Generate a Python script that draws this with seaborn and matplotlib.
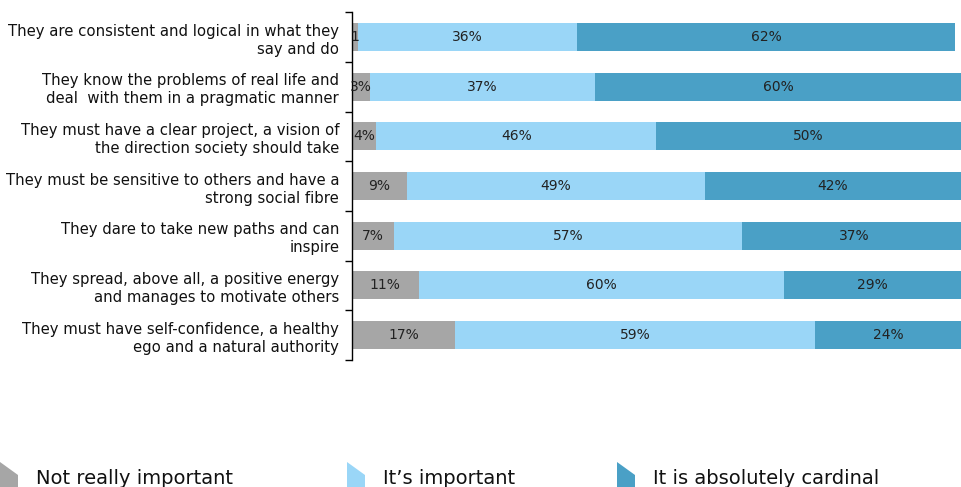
import matplotlib
matplotlib.use("Agg")
import matplotlib.pyplot as plt
from matplotlib.patches import Polygon
import numpy as np
import pandas as pd
import seaborn as sns

statements = [
    "They are consistent and logical in what they\nsay and do",
    "They know the problems of real life and\ndeal  with them in a pragmatic manner",
    "They must have a clear project, a vision of\nthe direction society should take",
    "They must be sensitive to others and have a\nstrong social fibre",
    "They dare to take new paths and can\ninspire",
    "They spread, above all, a positive energy\nand manages to motivate others",
    "They must have self-confidence, a healthy\nego and a natural authority",
]
not_really = [1, 3, 4, 9, 7, 11, 17]
important = [36, 37, 46, 49, 57, 60, 59]
cardinal = [62, 60, 50, 42, 37, 29, 24]
not_really_labels = ["1", "3%", "4%", "9%", "7%", "11%", "17%"]
series_names = ["Not really important", "It\u2019s important", "It is absolutely cardinal"]
colors = ["#A6A6A6", "#9AD6F7", "#4AA0C6"]

df = pd.DataFrame({
    "statement": statements,
    "not_really": not_really,
    "important": important,
    "cardinal": cardinal,
})
df["cum1"] = df["not_really"]
df["cum2"] = df["cum1"] + df["important"]
df["cum3"] = df["cum2"] + df["cardinal"]

sns.set_theme(style="white")
plt.rcParams["font.family"] = ["DejaVu Sans"]

fig = plt.figure(figsize=(9.61, 4.87), dpi=100)
ax = fig.add_axes([0.366, 0.261, 0.634, 0.714])

# Stacked bars drawn as layered cumulative totals
for col, color in zip(["cum3", "cum2", "cum1"], colors[::-1]):
    sns.barplot(data=df, x=col, y="statement", orient="h", color=color,
                width=0.56, ax=ax, saturation=1, edgecolor="none", linewidth=0)

ax.set_xlim(0, 100)
ax.set_ylim(len(statements) - 0.5, -0.5)
ax.set_xlabel("")
ax.set_ylabel("")
ax.set_xticks([])

# Value labels centred on each segment
seg_values = [df["not_really"], df["important"], df["cardinal"]]
seg_lefts = [np.zeros(len(df)), df["cum1"], df["cum2"]]
for k, (vals, lefts) in enumerate(zip(seg_values, seg_lefts)):
    for i, (v, l) in enumerate(zip(vals, lefts)):
        txt = not_really_labels[i] if k == 0 else f"{v}%"
        ax.text(l + v / 2, i, txt, ha="center", va="center",
                fontsize=10, color="#222222")

# Left spine with tick marks at category boundaries
for s in ["top", "right", "bottom"]:
    ax.spines[s].set_visible(False)
ax.spines["left"].set_color("black")
ax.spines["left"].set_linewidth(1.0)
ax.tick_params(axis="y", which="major", length=0, labelsize=10.7, pad=9,
               labelcolor="#111111")
ax.set_yticks(np.arange(-0.5, len(statements), 1.0), minor=True)
ax.tick_params(axis="y", which="minor", length=5, width=1, color="black",
               direction="out", left=True)
for lab in ax.get_yticklabels():
    lab.set_horizontalalignment("right")
    lab.set_multialignment("right")
    lab.set_linespacing(1.25)

# Legend along the bottom edge
legend_x = [0, 347, 617]
W, H = 961, 487
for x0, name, color in zip(legend_x, series_names, colors):
    poly = Polygon([(x0 / W, 1 - 462 / H), (x0 / W + 18 / W, 1 - 475 / H),
                    (x0 / W + 18 / W, -0.01), (x0 / W, -0.01)],
                   closed=True, transform=fig.transFigure,
                   facecolor=color, edgecolor="none")
    fig.patches.append(poly)
    fig.text((x0 + 36) / W, 1 - 484 / H, name, fontsize=14,
             ha="left", va="baseline", color="#111111")

fig.savefig("out.png", dpi=100)
